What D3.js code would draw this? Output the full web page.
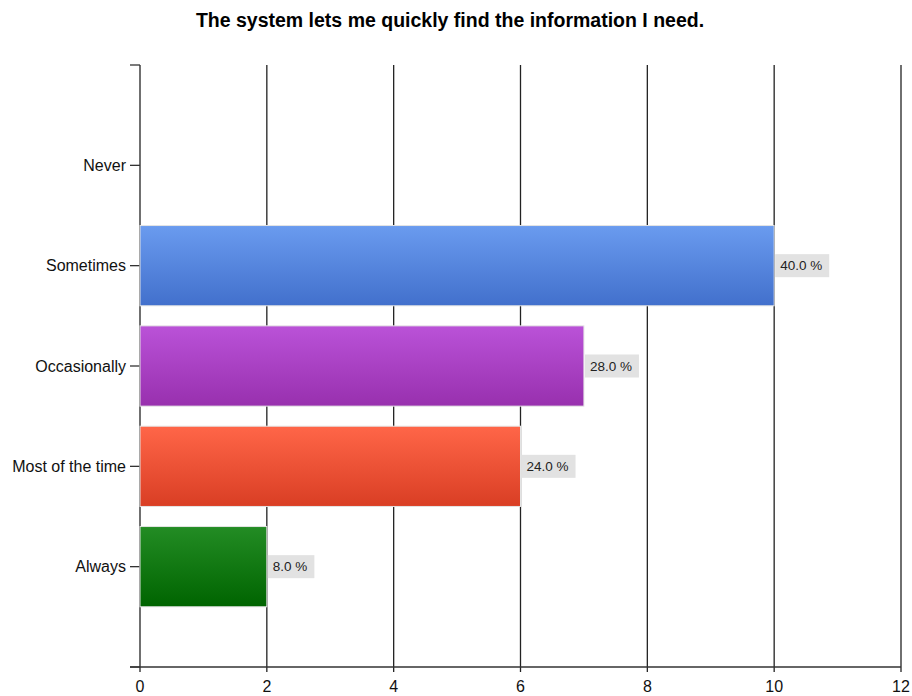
<!DOCTYPE html>
<html>
<head>
<meta charset="utf-8">
<script src="https://cdn.jsdelivr.net/npm/d3@7"></script>
<style>
  body { margin: 0; background: #fff; }
  text { font-family: "Liberation Sans", Arial, sans-serif; }
</style>
</head>
<body>
<div class="container"></div>
<script>
  // data
  var categories = ['Never', 'Sometimes', 'Occasionally', 'Most of the time', 'Always'];
  var counts = [0, 10, 7, 6, 2];
  var percentLabels = ['', '40.0 %', '28.0 %', '24.0 %', '8.0 %'];
  var xTicks = [0, 2, 4, 6, 8, 10, 12];
  var barColors = [
    ['#6a9bef', '#4270cc'],
    ['#6a9bef', '#4270cc'],
    ['#ba52d8', '#9830ae'],
    ['#ff6648', '#d93e24'],
    ['#238c24', '#006400']
  ];

  var chart = { width: 912, height: 696, left: 140, right: 901, top: 65, bottom: 667 };

  var svg = d3.select('.container').append('svg')
              .attr('width', chart.width)
              .attr('height', chart.height);

  var x = d3.scaleLinear().domain([0, 12]).range([chart.left, chart.right]);
  // slots 0..6, categories sit on 1..5
  var y = d3.scaleLinear().domain([0, categories.length + 1]).range([chart.top, chart.bottom]);
  var slot = y(1) - y(0);
  var barH = slot * 0.8;

  svg.append('text')
     .attr('x', 450).attr('y', 27)
     .attr('text-anchor', 'middle')
     .style('font-size', '19.5px').style('font-weight', 'bold')
     .text('The system lets me quickly find the information I need.');

  // gradients
  var defs = svg.append('defs');
  barColors.forEach(function(c, i){
    var g = defs.append('linearGradient').attr('id', 'grad' + i)
                .attr('x1', 0).attr('y1', 0).attr('x2', 0).attr('y2', 1);
    g.append('stop').attr('offset', '0%').attr('stop-color', c[0]);
    g.append('stop').attr('offset', '100%').attr('stop-color', c[1]);
  });

  // vertical grid lines
  svg.selectAll('.grid').data(xTicks).enter().append('line')
     .attr('class', 'grid')
     .attr('x1', function(d){ return x(d); })
     .attr('x2', function(d){ return x(d); })
     .attr('y1', chart.top).attr('y2', chart.bottom + 5)
     .style('stroke', '#222').style('stroke-width', 1.3);

  // y axis ticks
  var yTicks = d3.range(0, categories.length + 2);
  svg.selectAll('.ytick').data(yTicks).enter().append('line')
     .attr('x1', chart.left - 10).attr('x2', chart.left)
     .attr('y1', function(d){ return y(d); })
     .attr('y2', function(d){ return y(d); })
     .style('stroke', '#333').style('stroke-width', 1.3);

  svg.append('line')
     .attr('x1', chart.left - 10).attr('x2', chart.right)
     .attr('y1', chart.bottom).attr('y2', chart.bottom)
     .style('stroke', '#333').style('stroke-width', 1.3);

  svg.selectAll('.ylab').data(categories).enter().append('text')
     .attr('x', chart.left - 14)
     .attr('y', function(d, i){ return y(i + 1); })
     .attr('dy', '0.35em')
     .attr('text-anchor', 'end')
     .style('font-size', '16px').style('fill', '#111')
     .text(function(d){ return d; });

  svg.selectAll('.xlab').data(xTicks).enter().append('text')
     .attr('x', function(d){ return x(d); })
     .attr('y', chart.bottom + 25)
     .attr('text-anchor', 'middle')
     .style('font-size', '16px').style('fill', '#111')
     .text(function(d){ return d; });

  // bars
  counts.forEach(function(d, i){
    if (d <= 0) return;
    svg.append('rect')
       .attr('x', x(0))
       .attr('y', y(i + 1) - barH / 2)
       .attr('width', x(d) - x(0))
       .attr('height', barH)
       .style('fill', 'url(#grad' + i + ')')
       .style('stroke', '#e4e4e4').style('stroke-width', 1);
  });

  // value labels
  counts.forEach(function(d, i){
    if (!percentLabels[i]) return;
    var cy = y(i + 1);
    var lab = svg.append('g');
    var t = lab.append('text')
       .attr('x', x(d) + 6).attr('y', cy).attr('dy', '0.35em')
       .style('font-size', '13.5px').style('fill', '#222')
       .text(percentLabels[i]);
    var w = t.node().getComputedTextLength();
    lab.insert('rect', 'text')
       .attr('x', x(d) + 1).attr('y', cy - 11.5)
       .attr('width', w + 12).attr('height', 23)
       .style('fill', '#e2e2e2');
  });
</script>
</body>
</html>
